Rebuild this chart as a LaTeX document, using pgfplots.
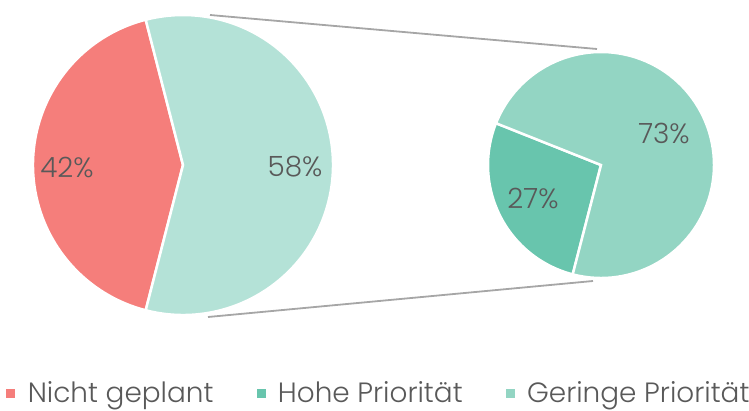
\documentclass[border=0pt]{standalone}
\usepackage{pgfplots}
\pgfplotsset{compat=1.18}
\usepackage{fontspec}
\setmainfont{Poppins}[UprightFont={* Light}]
\definecolor{cRed}{HTML}{F57E7B}
\definecolor{cLeftG}{HTML}{B4E2D7}
\definecolor{cDark}{HTML}{68C5AD}
\definecolor{cLight}{HTML}{93D5C3}
\definecolor{cText}{HTML}{595959}
\definecolor{cLine}{HTML}{A6A6A6}
% data (percent)
\def\vNicht{42}
\def\vGeplant{58}
\def\vHohe{27}
\def\vGering{73}
\begin{document}
\begin{tikzpicture}
\begin{axis}[
  x=1bp, y=1bp, xmin=0, xmax=749, ymin=0, ymax=411,
  scale only axis, hide axis, clip=false,
  anchor=origin, at={(0,0)},
  legend columns=3,
  legend style={draw=none, fill=none, at={(axis cs:379,18)}, anchor=center,
    font=\fontsize{28}{31}\selectfont, text=cText,
    /tikz/every even column/.append style={column sep=41bp},
    inner sep=0pt},
  legend image code/.code={\fill[#1] (0bp,-4bp) rectangle (8bp,4bp);},
]
\addlegendimage{cRed}
\addlegendentry{\hspace{11bp}Nicht geplant}
\addlegendimage{cDark}
\addlegendentry{\hspace{11bp}Hohe Priorität}
\addlegendimage{cLight}
\addlegendentry{\hspace{11bp}Geringe Priorität}

% connector lines
\addplot[cLine, line width=1.8bp, forget plot] coordinates {(210,396) (597,362)};
\addplot[cLine, line width=1.8bp, forget plot] coordinates {(208,94) (593,130)};

% left pie
\pgfmathsetmacro{\aRs}{180-\vNicht*1.8}
\pgfmathsetmacro{\aRe}{180+\vNicht*1.8}
\fill[cRed, draw=white, line width=2.5bp, line join=miter] (axis cs:183,246) -- ++(\aRs:150bp) arc[start angle=\aRs, end angle=\aRe, radius=150bp] -- cycle;
\fill[cLeftG, draw=white, line width=2.5bp, line join=miter] (axis cs:183,246) -- ++(\aRe:150bp) arc[start angle=\aRe, end angle={\aRe+\vGeplant*3.6}, radius=150bp] -- cycle;

% right pie
\pgfmathsetmacro{\bs}{158.3}
\pgfmathsetmacro{\be}{\bs+\vHohe*3.6}
\fill[cDark, draw=white, line width=2.5bp, line join=miter] (axis cs:601,246) -- ++(\bs:113bp) arc[start angle=\bs, end angle=\be, radius=113bp] -- cycle;
\fill[cLight, draw=white, line width=2.5bp, line join=miter] (axis cs:601,246) -- ++(\be:113bp) arc[start angle=\be, end angle={\be+\vGering*3.6}, radius=113bp] -- cycle;

% labels
\begin{scope}[every node/.style={text=cText, font=\fontsize{28}{31}\selectfont, inner sep=0pt}]
\node at (axis cs:67,243.5) {\vNicht\%};
\node at (axis cs:295,244) {\vGeplant\%};
\node at (axis cs:533,212.5) {\vHohe\%};
\node at (axis cs:664,278) {\vGering\%};
\end{scope}
\end{axis}
\pgfresetboundingbox
\path (0,0) rectangle (749bp,411bp);
\end{tikzpicture}
\end{document}
